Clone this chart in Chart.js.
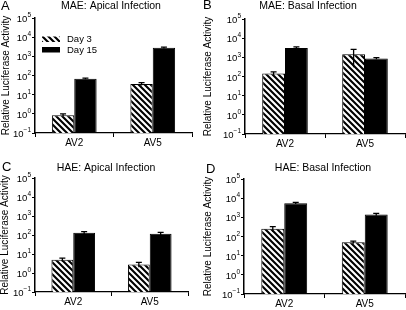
<!DOCTYPE html>
<html>
<head>
<meta charset="utf-8">
<script src="https://cdn.jsdelivr.net/npm/chart.js@4/dist/chart.umd.min.js"></script>
<style>
  html, body { margin: 0; padding: 0; background: #fff; }
  #wrap { position: relative; width: 406px; height: 310px; }
  #wrap canvas { position: absolute; left: 0; top: 0; }
</style>
</head>
<body>
<div id="wrap">
  <canvas id="pA" width="406" height="310"></canvas>
  <canvas id="pB" width="406" height="310"></canvas>
  <canvas id="pC" width="406" height="310"></canvas>
  <canvas id="pD" width="406" height="310"></canvas>
</div>
<script>
// data
const categories = ['AV2', 'AV5'];
const seriesNames = ['Day 3', 'Day 15'];
const yTicks = [0.1, 1, 10, 100, 1000, 10000, 100000];

const maeApicalDay3 = [0.85, 36];
const maeApicalDay15 = [68, 2800];
const maeApicalErr3 = [0.15, 6];
const maeApicalErr15 = [5, 200];

const maeBasalDay3 = [145, 1450];
const maeBasalDay15 = [3100, 880];
const maeBasalErr3 = [30, 1150];
const maeBasalErr15 = [400, 80];

const haeApicalDay3 = [5.0, 2.8];
const haeApicalDay15 = [130, 118];
const haeApicalErr3 = [1.0, 0.8];
const haeApicalErr15 = [22, 18];

const haeBasalDay3 = [250, 50];
const haeBasalDay15 = [5500, 1400];
const haeBasalErr3 = [80, 8];
const haeBasalErr15 = [500, 200];

const FONT = "'Liberation Sans', Arial, sans-serif";

// diagonal hatch for Day 3
function makeHatch() {
  const s = 6;
  const c = document.createElement('canvas');
  c.width = s; c.height = s;
  const g = c.getContext('2d');
  g.fillStyle = '#fff';
  g.fillRect(0, 0, s, s);
  g.strokeStyle = '#000';
  g.lineWidth = 2.1;
  g.beginPath();
  for (let o = -s; o <= s; o += s) {
    g.moveTo(o - 1, -1);
    g.lineTo(o + s + 1, s + 1);
  }
  g.stroke();
  return g.createPattern(c, 'repeat');
}
const hatch = makeHatch();

const panels = [
  { id: 'pA', letter: 'A', title: 'MAE: Apical Infection', d3: maeApicalDay3, d15: maeApicalDay15, e3: maeApicalErr3, e15: maeApicalErr15,
    box: { l: 35, r: 192, t: 18, b: 133 }, titleX: 111, titleY: 6, letterX: 1, letterY: 6, yTitleX: 6, legend: true },
  { id: 'pB', letter: 'B', title: 'MAE: Basal Infection', d3: maeBasalDay3, d15: maeBasalDay15, e3: maeBasalErr3, e15: maeBasalErr15,
    box: { l: 245, r: 405, t: 19, b: 134 }, titleX: 308, titleY: 6, letterX: 203, letterY: 5, yTitleX: 208, legend: false },
  { id: 'pC', letter: 'C', title: 'HAE: Apical Infection', d3: haeApicalDay3, d15: haeApicalDay15, e3: haeApicalErr3, e15: haeApicalErr15,
    box: { l: 35, r: 188, t: 178, b: 292 }, titleX: 106, titleY: 168, letterX: 2, letterY: 167, yTitleX: 5, legend: false },
  { id: 'pD', letter: 'D', title: 'HAE: Basal Infection', d3: haeBasalDay3, d15: haeBasalDay15, e3: haeBasalErr3, e15: haeBasalErr15,
    box: { l: 244, r: 405, t: 179, b: 294 }, titleX: 323, titleY: 168, letterX: 206, letterY: 169, yTitleX: 208, legend: false }
];

const errorBars = {
  id: 'errorBars',
  afterDatasetsDraw(chart) {
    const ctx = chart.ctx;
    const y = chart.scales.y;
    chart.data.datasets.forEach((ds, i) => {
      chart.getDatasetMeta(i).data.forEach((bar, j) => {
        const v = ds.data[j], e = ds.errors[j];
        const top = y.getPixelForValue(v + e);
        const bot = y.getPixelForValue(Math.max(v - e, 0.1));
        ctx.save();
        ctx.strokeStyle = '#000';
        ctx.lineWidth = 1.3;
        ctx.beginPath();
        ctx.moveTo(bar.x, bot);
        ctx.lineTo(bar.x, top);
        ctx.moveTo(bar.x - 3, top);
        ctx.lineTo(bar.x + 3, top);
        ctx.stroke();
        ctx.restore();
      });
    });
  }
};

const decorations = {
  id: 'decorations',
  afterDraw(chart, args, opts) {
    const p = opts.panel;
    const ctx = chart.ctx;
    const y = chart.scales.y;
    const area = chart.chartArea;
    ctx.save();
    ctx.fillStyle = '#000';

    // panel letter
    ctx.font = '13px ' + FONT;
    ctx.textAlign = 'left';
    ctx.textBaseline = 'middle';
    ctx.fillText(p.letter, p.letterX, p.letterY);

    // title
    ctx.font = '10.5px ' + FONT;
    ctx.textAlign = 'center';
    ctx.fillText(p.title, p.titleX, p.titleY);

    // y ticks 10^n
    yTicks.forEach(v => {
      const py = y.getPixelForValue(v);
      const ex = String(Math.round(Math.log10(v))).replace('-', '\u2212');
      ctx.textAlign = 'right';
      ctx.font = '6.5px ' + FONT;
      const ew = ctx.measureText(ex).width;
      ctx.fillText(ex, area.left - 4, py - 2.5);
      ctx.font = '9.5px ' + FONT;
      ctx.fillText('10', area.left - 4 - ew, py + 1.5);
    });

    // y axis title
    ctx.save();
    ctx.translate(p.yTitleX, (area.top + area.bottom) / 2);
    ctx.rotate(-Math.PI / 2);
    ctx.font = '10px ' + FONT;
    ctx.textAlign = 'center';
    ctx.fillText('Relative Luciferase Activity', 0, 0);
    ctx.restore();

    // legend
    if (p.legend) {
      const fills = chart.data.datasets.map(d => d.backgroundColor);
      seriesNames.forEach((name, i) => {
        const by = 36.5 + i * 10.5;
        ctx.fillStyle = fills[i];
        ctx.fillRect(42, by, 18, 5.5);
        ctx.fillStyle = '#000';
        ctx.font = '9.5px ' + FONT;
        ctx.textAlign = 'left';
        ctx.fillText(name, 67, by + 3);
      });
    }
    ctx.restore();
  }
};

panels.forEach(p => {
  const xh = 22;
  new Chart(document.getElementById(p.id).getContext('2d'), {
    type: 'bar',
    data: {
      labels: categories,
      datasets: [
        { label: seriesNames[0], data: p.d3, errors: p.e3, backgroundColor: hatch, borderColor: '#000', borderWidth: 1 },
        { label: seriesNames[1], data: p.d15, errors: p.e15, backgroundColor: '#000', borderColor: '#000', borderWidth: 1 }
      ]
    },
    options: {
      responsive: false,
      animation: false,
      events: [],
      categoryPercentage: 0.57,
      barPercentage: 1,
      layout: { padding: { left: p.box.l, top: p.box.t, right: 406 - p.box.r, bottom: 310 - p.box.b - xh } },
      plugins: {
        legend: { display: false },
        tooltip: { enabled: false },
        decorations: { panel: p }
      },
      scales: {
        x: {
          offset: true,
          grid: { drawOnChartArea: false, offset: true, tickLength: 4, color: '#000', lineWidth: 1 },
          border: { color: '#000', width: 1.2 },
          ticks: { color: '#000', font: { family: FONT, size: 10 }, padding: 0 },
          afterFit: s => { s.height = xh; }
        },
        y: {
          type: 'logarithmic',
          min: 0.1,
          max: 100000,
          afterBuildTicks: s => { s.ticks = yTicks.map(v => ({ value: v })); },
          ticks: { display: false },
          grid: { drawOnChartArea: false, tickLength: 3, color: '#000', lineWidth: 1 },
          border: { color: '#000', width: 1.5 },
          afterFit: s => { s.width = 0; }
        }
      }
    },
    plugins: [errorBars, decorations]
  });
});
</script>
</body>
</html>
